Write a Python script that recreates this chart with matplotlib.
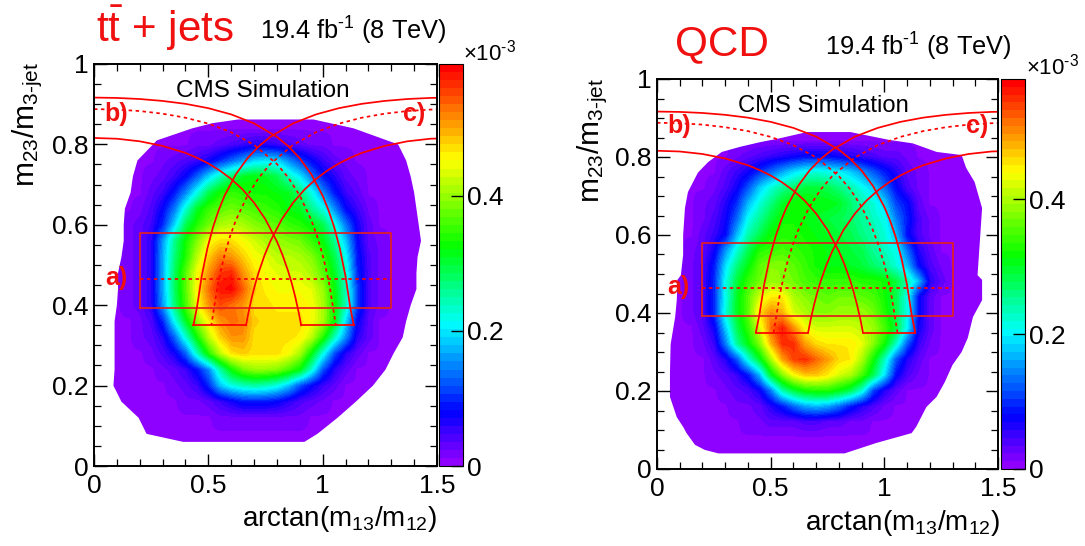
import matplotlib
matplotlib.use("Agg")
import matplotlib.pyplot as plt
from matplotlib.colors import LinearSegmentedColormap, ListedColormap, Normalize
from matplotlib.patches import Polygon
from matplotlib.ticker import MultipleLocator
import numpy as np

plt.rcParams['font.family'] = ['Liberation Sans', 'DejaVu Sans']
plt.rcParams['mathtext.fontset'] = 'custom'
plt.rcParams['mathtext.rm'] = 'Liberation Sans'
plt.rcParams['mathtext.it'] = 'Liberation Sans'
plt.rcParams['mathtext.default'] = 'regular'

W, H = 1085, 546

# grid nodes of the coarse reading of the 2D histograms (values in 1e-5)
x_nodes = [0.05, 0.10, 0.15, 0.20, 0.25, 0.30, 0.35, 0.40, 0.45, 0.50, 0.55, 0.60, 0.65, 0.70, 0.75,
           0.80, 0.85, 0.90, 0.95, 1.00, 1.05, 1.10, 1.15, 1.20, 1.25, 1.30, 1.35, 1.40, 1.45]
y_nodes = [0.04, 0.08, 0.12, 0.16, 0.20, 0.24, 0.28, 0.32, 0.36, 0.40, 0.44, 0.48, 0.52, 0.56, 0.60,
           0.64, 0.68, 0.72, 0.76, 0.80, 0.84, 0.88]

ttbar_z = [
 [1]*29,
 [1]*29,
 [1,1,1,1,1,1,1,1,1,1,2,2,2,2,2,2,2,2,1,1,1,1,1,1,1,1,1,1,1],
 [1,1,1,1,1,1,1,2,2,3,5,7,9,9,9,8,6,4,3,2,1,1,1,1,1,1,1,1,1],
 [1,1,1,1,1,1,2,3,5,10,18,22,24,25,24,22,18,12,8,5,3,1,1,1,1,1,1,1,1],
 [1,1,1,1,1,2,3,5,9,15,25,33,38,40,40,39,36,32,23,12,6,3,1,1,1,1,1,1,1],
 [1,1,1,1,2,4,7,13,24,34,42,47,48,47,47,47,45,41,32,22,12,6,3,1,1,1,1,1,1],
 [1,1,1,2,3,6,13,23,33,42,48,51,51,47,47,47,47,46,42,34,24,15,6,3,1,1,1,1,1],
 [1,1,1,2,4,10,21,31,40,46,51,53,52,48,47,47,47,47,45,41,32,19,8,3,1,1,1,1,1],
 [1,1,2,3,6,16,27,36,45,51,55,53,51,47,47,46,46,46,45,41,33,24,11,4,2,1,1,1,1],
 [1,1,2,3,6,17,28,37,46,53,58,59,54,48,46,45,45,45,44,40,32,24,11,4,2,1,1,1,1],
 [1,1,2,3,6,17,28,37,45,51,56,57,51,47,45,44,43,43,41,37,31,23,10,4,2,1,1,1,1],
 [1,1,2,3,6,17,27,34,42,48,52,51,48,45,44,42,42,41,39,35,29,21,9,4,2,1,1,1,1],
 [1,1,2,3,6,16,26,33,39,45,47,47,45,43,41,40,39,38,35,32,26,18,8,3,2,1,1,1,1],
 [1,1,2,3,5,10,19,29,34,38,41,42,41,39,38,37,35,34,32,29,22,14,7,3,1,1,1,1,1],
 [1,1,1,2,4,8,14,23,31,35,37,38,37,36,35,34,32,31,26,22,15,8,5,2,1,1,1,1,1],
 [1,1,1,1,3,5,9,15,22,29,33,35,34,33,33,32,31,27,22,15,9,5,3,1,1,1,1,1,1],
 [1,1,1,1,2,3,5,8,13,19,24,28,31,32,31,29,24,20,14,9,6,3,2,1,1,1,1,1,1],
 [1,1,1,1,1,2,3,4,5,7,10,13,16,19,20,19,15,11,8,5,3,2,1,1,1,1,1,1,1],
 [1,1,1,1,1,1,1,1,2,2,3,4,5,6,6,5,4,3,2,2,1,1,1,1,1,1,1,1,1],
 [1]*29,
 [1]*29,
]

qcd_z = [
 [1]*29,
 [1]*29,
 [1,1,1,1,1,1,1,2,2,3,3,3,4,4,3,3,2,2,1,1,1,1,1,1,1,1,1,1,1],
 [1,1,1,1,1,1,2,2,3,6,9,13,16,17,16,13,9,6,4,2,1,1,1,1,1,1,1,1,1],
 [1,1,1,1,1,2,3,4,7,14,24,29,32,33,33,31,28,22,11,6,3,1,1,1,1,1,1,1,1],
 [1,1,1,1,2,3,5,9,17,30,38,44,47,47,45,42,40,35,28,19,8,4,2,1,1,1,1,1,1],
 [1,1,1,1,3,6,12,22,30,40,49,54,55,52,49,46,45,40,32,23,12,6,3,1,1,1,1,1,1],
 [1,1,1,2,5,14,25,31,38,48,55,55,49,46,45,45,45,43,38,32,23,12,5,2,1,1,1,1,1],
 [1,1,1,3,7,18,28,34,42,52,56,50,44,42,42,42,42,41,39,35,29,20,7,3,1,1,1,1,1],
 [1,1,2,4,10,22,30,36,46,50,48,42,40,38,38,39,39,39,37,33,28,21,8,3,1,1,1,1,1],
 [1,1,2,4,10,21,30,36,42,45,45,40,38,37,36,37,37,36,35,32,28,21,8,3,1,1,1,1,1],
 [1,1,2,4,10,21,29,34,37,39,38,37,35,34,34,34,34,33,33,32,29,24,17,6,3,1,1,1,1],
 [1,1,2,4,9,19,26,31,36,38,38,36,34,32,31,31,30,29,27,25,22,17,8,4,2,1,1,1,1],
 [1,1,2,3,7,15,22,28,33,34,35,34,33,32,31,30,29,28,25,23,21,13,6,3,1,1,1,1,1],
 [1,1,1,3,5,8,17,24,28,32,33,33,32,31,30,29,28,26,24,22,17,8,4,2,1,1,1,1,1],
 [1,1,1,2,4,7,13,21,25,29,32,32,31,30,29,28,27,25,23,21,14,9,4,2,1,1,1,1,1],
 [1,1,1,2,3,6,10,17,22,26,30,32,32,31,31,30,27,24,22,18,11,8,3,1,1,1,1,1,1],
 [1,1,1,1,2,4,7,12,18,22,25,27,29,29,28,26,24,21,18,13,8,4,2,1,1,1,1,1,1],
 [1,1,1,1,1,3,5,7,10,13,16,19,21,22,21,20,18,15,12,9,6,3,2,1,1,1,1,1,1],
 [1,1,1,1,1,1,2,3,4,5,6,7,8,8,8,7,6,5,4,3,3,2,1,1,1,1,1,1,1],
 [1]*29,
 [1]*29,
]

# outline of the filled region, read clockwise from the bottom-left
ttbar_edge_x = [0.39, 0.23, 0.195, 0.12, 0.085, 0.09, 0.09, 0.09, 0.09, 0.10, 0.105, 0.105, 0.12, 0.13, 0.13, 0.135,
                0.16, 0.17, 0.19, 0.275, 0.43, 0.52, 0.63, 0.96, 1.135, 1.33, 1.365, 1.385, 1.40, 1.41, 1.42, 1.43,
                1.415, 1.41, 1.41, 1.385, 1.365, 1.35, 1.31, 1.275, 1.22, 1.145, 1.065, 0.977, 0.92]
ttbar_edge_y = [0.06, 0.08, 0.12, 0.16, 0.20, 0.24, 0.28, 0.32, 0.36, 0.40, 0.44, 0.48, 0.52, 0.56, 0.60, 0.64,
                0.68, 0.72, 0.76, 0.81, 0.84, 0.853, 0.862, 0.862, 0.84, 0.80, 0.76, 0.72, 0.68, 0.64, 0.60, 0.56,
                0.52, 0.48, 0.44, 0.40, 0.36, 0.32, 0.28, 0.24, 0.20, 0.16, 0.12, 0.08, 0.06]
qcd_edge_x = [0.27, 0.21, 0.167, 0.13, 0.115, 0.087, 0.057, 0.057, 0.06, 0.08, 0.087, 0.09, 0.105, 0.115, 0.115, 0.123,
              0.136, 0.18, 0.225, 0.285, 0.365, 0.453, 0.54, 0.66, 0.85, 1.02, 1.125, 1.23, 1.34, 1.36, 1.397, 1.43,
              1.42, 1.41, 1.43, 1.43, 1.39, 1.367, 1.34, 1.30, 1.266, 1.23, 1.185, 1.14, 1.12, 0.966, 0.825]
qcd_edge_y = [0.04, 0.049, 0.062, 0.092, 0.108, 0.133, 0.185, 0.246, 0.32, 0.39, 0.433, 0.485, 0.497, 0.549, 0.60, 0.669,
              0.71, 0.76, 0.787, 0.813, 0.826, 0.838, 0.848, 0.864, 0.864, 0.844, 0.835, 0.813, 0.805, 0.772, 0.736, 0.669,
              0.582, 0.497, 0.485, 0.433, 0.39, 0.336, 0.30, 0.267, 0.223, 0.185, 0.159, 0.108, 0.092, 0.067, 0.04]

# selection boundaries
b_outer_x = [0.0, 0.1, 0.2, 0.3, 0.4, 0.5, 0.6, 0.7, 0.8, 0.85, 0.9, 0.95, 1.0, 1.025, 1.05, 1.075, 1.10, 1.12, 1.136]
b_outer_y = [0.9165, 0.9156, 0.9129, 0.9081, 0.9009, 0.8901, 0.8746, 0.8523, 0.8187, 0.7954, 0.7653, 0.7260, 0.6722,
             0.6372, 0.5948, 0.5412, 0.4715, 0.3964, 0.35]
b_mid_x = [0.0, 0.1, 0.2, 0.3, 0.4, 0.5, 0.6, 0.7, 0.8, 0.85, 0.9, 0.95, 0.975, 1.0, 1.015, 1.03, 1.0577]
b_mid_y = [0.8878, 0.8866, 0.8830, 0.8764, 0.8664, 0.8516, 0.8303, 0.7989, 0.7511, 0.7171, 0.6725, 0.6120, 0.5728,
           0.5245, 0.4889, 0.4490, 0.35]
b_inner_x = [0.0, 0.1, 0.2, 0.3, 0.4, 0.45, 0.5, 0.55, 0.6, 0.65, 0.7, 0.75, 0.8, 0.825, 0.85, 0.865, 0.88, 0.895, 0.906]
b_inner_y = [0.8160, 0.8141, 0.8077, 0.7962, 0.7788, 0.7668, 0.7526, 0.7351, 0.7139, 0.6878, 0.6550, 0.6133, 0.5585,
             0.5241, 0.4829, 0.4542, 0.4210, 0.3825, 0.35]
mirror_x = 1.5708

box_x = [0.2, 1.3]
box_y = [0.393, 0.58]
box_mid_y = 0.465
floor_y = 0.35

x_ticks = [0, 0.5, 1, 1.5]
x_tick_labels = ['0', '0.5', '1', '1.5']
y_ticks = [0, 0.2, 0.4, 0.6, 0.8, 1]
y_tick_labels = ['0', '0.2', '0.4', '0.6', '0.8', '1']
cbar_ticks = [0, 0.2, 0.4]
cbar_tick_labels = ['0', '0.2', '0.4']

anchors = [(0.0, (0.56, 0, 1)), (0.127, (0, 0, 1)), (0.35, (0, 1, 1)), (0.545, (0, 1, 0)),
           (0.769, (1, 1, 0)), (1.0, (1, 0, 0))]
base = LinearSegmentedColormap.from_list('root', anchors)
cmap = ListedColormap(base(np.linspace(0, 1, 50)))

fig = plt.figure(figsize=(W / 100, H / 100), dpi=100)


def axes_px(l, t, r, b):
    return fig.add_axes([l / W, 1 - b / H, (r - l) / W, (b - t) / H])


def txt(px, py, s, **kw):
    fig.text(px / W, 1 - py / H, s, **kw)


RED = '#f01010'


def panel(box, cbox, z, edge_x, edge_y, vmax):
    ax = axes_px(*box)
    dx, dy = x_nodes[1] - x_nodes[0], y_nodes[1] - y_nodes[0]
    ext = (x_nodes[0] - dx / 2, x_nodes[-1] + dx / 2, y_nodes[0] - dy / 2, y_nodes[-1] + dy / 2)
    norm = Normalize(0, vmax)
    im = ax.imshow(np.array(z, float) / 100, origin='lower', extent=ext, aspect='auto', cmap=cmap, norm=norm,
                   interpolation='bilinear', interpolation_stage='data')
    clip = Polygon(np.column_stack([edge_x, edge_y]), closed=True, transform=ax.transData, fill=False, ec='none')
    ax.add_patch(clip)
    im.set_clip_path(clip)
    ax.set_xlim(0, 1.5)
    ax.set_ylim(0, 1)

    lw = 1.25
    ax.plot(box_x + box_x[::-1] + box_x[:1], [box_y[0]] * 2 + [box_y[1]] * 2 + [box_y[0]], color='#e02020', lw=lw)
    ax.plot(box_x, [box_mid_y] * 2, color='red', lw=lw, ls=(0, (2, 2)))
    for cx, cy, ls in ((b_outer_x, b_outer_y, '-'), (b_inner_x, b_inner_y, '-'), (b_mid_x, b_mid_y, (0, (2, 2)))):
        ax.plot(cx, cy, color='red', lw=lw, ls=ls)
        ax.plot([mirror_x - v for v in cx], cy, color='red', lw=lw, ls=ls)
    ax.plot([b_inner_x[-1], b_outer_x[-1]], [floor_y] * 2, color='red', lw=lw)
    ax.plot([mirror_x - b_outer_x[-1], mirror_x - b_inner_x[-1]], [floor_y] * 2, color='red', lw=lw)

    ax.set_xticks(x_ticks, x_tick_labels)
    ax.set_yticks(y_ticks, y_tick_labels)
    ax.xaxis.set_minor_locator(MultipleLocator(0.1))
    ax.yaxis.set_minor_locator(MultipleLocator(0.05))
    ax.tick_params(which='major', direction='in', length=9, width=1.0, top=True, right=True, labelsize=19)
    ax.tick_params(axis='x', which='major', pad=6)
    ax.tick_params(axis='y', which='major', pad=4)
    ax.tick_params(which='minor', direction='in', length=5, width=0.9, top=True, right=True)
    for s in ax.spines.values():
        s.set_linewidth(1.4)

    cax = axes_px(*cbox)
    cb = fig.colorbar(im, cax=cax)
    cb.set_ticks(cbar_ticks, labels=cbar_tick_labels)
    cax.tick_params(direction='in', length=9, width=1.0, labelsize=19, pad=3)
    cax.minorticks_off()
    cb.outline.set_linewidth(0.8)
    return ax


panel((94, 64, 437, 466), (439, 64, 463, 466), ttbar_z, ttbar_edge_x, ttbar_edge_y, 0.595)
panel((657, 79, 998, 469), (1001, 79, 1025, 469), qcd_z, qcd_edge_x, qcd_edge_y, 0.578)

LUMI = '19.4 fb$^{\\text{-}1}$ (8 TeV)'
YLAB = 'm$_{23}$/m$_{3\\text{-jet}}$'
XLAB = 'arctan(m$_{13}$/m$_{12}$)'

# panel 1 text
txt(96, 42, r't$\bar{\mathrm{t}}$ + jets', color=RED, fontsize=30.4, va='baseline')
txt(260, 40, LUMI, fontsize=18.3, va='baseline')
txt(176, 97, 'CMS Simulation', fontsize=17.5, va='baseline')
txt(463, 61, r'×10$^{\text{-}3}$', fontsize=16, va='baseline')
txt(437, 526, XLAB, fontsize=20, ha='right', va='baseline')
txt(45, 62, YLAB, fontsize=21.5, rotation=90, ha='right', va='top')
# panel 2 text
txt(675, 55, 'QCD', color=RED, fontsize=30.4, va='baseline')
txt(825, 56, LUMI, fontsize=18.3, va='baseline')
txt(738, 112, 'CMS Simulation', fontsize=17.1, va='baseline')
txt(1026, 75, r'×10$^{\text{-}3}$', fontsize=16, va='baseline')
txt(1000, 530, XLAB, fontsize=20, ha='right', va='baseline')
txt(610, 78, YLAB, fontsize=21.5, rotation=90, ha='right', va='top')

for px, py, s in ((105, 285, 'a)'), (104, 121, 'b)'), (403, 121, 'c)'),
                  (667, 294, 'a)'), (667, 133, 'b)'), (966, 133, 'c)')):
    txt(px, py, s, color=RED, fontsize=18, fontweight='bold', va='baseline')

fig.savefig('out.png', dpi=100)
